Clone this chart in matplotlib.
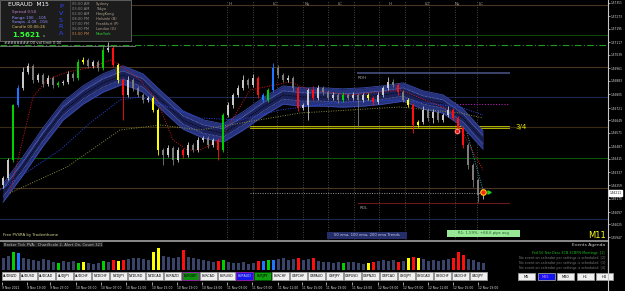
import matplotlib
matplotlib.use("Agg")
import matplotlib.pyplot as plt
from matplotlib.patches import Rectangle
import numpy as np

# ---------------- data ----------------
open_first = 1.56259
closes = [1.56301, 1.56409, 1.56739, 1.56841, 1.56937, 1.56973, 1.56889, 1.56919, 1.56865, 1.56901,
          1.56859, 1.56871, 1.56877, 1.56925, 1.56901, 1.56997, 1.57009, 1.56973, 1.56997, 1.56961,
          1.57069, 1.57081, 1.56979, 1.56889, 1.56799, 1.56889, 1.56841, 1.56799, 1.56769, 1.56781,
          1.56709, 1.56469, 1.56439, 1.56481, 1.56409, 1.56469, 1.56439, 1.56499, 1.56469, 1.56529,
          1.56541, 1.56499, 1.56529, 1.56469, 1.56679, 1.56739, 1.56799, 1.56841, 1.56889, 1.56859,
          1.56901, 1.56799, 1.56769, 1.56829, 1.56961, 1.56919, 1.56889, 1.56901, 1.56841, 1.56721,
          1.56739, 1.56829, 1.56781, 1.56841, 1.56817, 1.56781, 1.56799, 1.56769, 1.56799, 1.56781,
          1.56799, 1.56769, 1.56799, 1.56781, 1.56757, 1.56799, 1.56841, 1.56877, 1.56859, 1.56817,
          1.56769, 1.56739, 1.56619, 1.56637, 1.56709, 1.56661, 1.56697, 1.56649, 1.56679, 1.56709,
          1.56661, 1.56601, 1.56499, 1.56379, 1.56289, 1.56199, 1.56211]
wick_up_pts = [12, 12, 6, 18, 30, 20, 12, 12, 12, 18,
               12, 12, 12, 18, 12, 20, 18, 12, 12, 12,
               24, 36, 12, 12, 12, 24, 12, 12, 12, 12,
               12, 12, 12, 18, 12, 18, 12, 18, 12, 18,
               12, 12, 12, 12, 12, 18, 12, 18, 30, 12,
               24, 12, 12, 12, 30, 20, 12, 18, 12, 12,
               12, 12, 24, 18, 12, 12, 18, 12, 18, 12,
               18, 12, 12, 12, 12, 18, 12, 30, 18, 12,
               12, 12, 12, 12, 24, 12, 18, 12, 12, 24,
               12, 12, 12, 12, 12, 12, 12]
wick_dn_pts = [18, 12, 12, 12, 12, 12, 18, 12, 18, 12,
               18, 12, 12, 12, 18, 12, 12, 12, 12, 18,
               12, 12, 12, 18, 150, 12, 18, 12, 18, 12,
               12, 30, 60, 12, 30, 12, 18, 12, 12, 12,
               12, 18, 12, 60, 12, 12, 18, 12, 12, 18,
               12, 18, 12, 12, 12, 18, 12, 12, 18, 18,
               12, 90, 12, 12, 18, 12, 12, 18, 12, 12,
               12, 160, 12, 12, 18, 12, 12, 12, 12, 18,
               12, 12, 48, 12, 12, 18, 30, 12, 12, 12,
               12, 12, 18, 24, 40, 40, 24]
candle_codes = ("nngbnnnnnn" "ngnnngynnn" "gnryrnnnnn" "yynnnnrnnn" "nnnrgnnnnn"
                "nrbgbnnnnr" "nnrnnnnngn" "nnnyrnnnnr" "nyrynnnnnn" "rrrnnnn")
volumes = [12, 14, 18, 17, 12, 11, 10, 9, 11, 10,
           8, 7, 9, 8, 9, 7, 8, 7, 6, 7,
           9, 8, 10, 9, 10, 11, 12, 12, 11, 10,
           18, 22, 14, 13, 12, 13, 20, 13, 12, 11,
           10, 9, 8, 9, 10, 8, 7, 7, 8, 6,
           7, 9, 9, 10, 10, 11, 12, 10, 11, 12,
           10, 11, 12, 9, 8, 8, 7, 8, 7, 8,
           8, 7, 6, 7, 8, 9, 10, 9, 10, 8,
           9, 12, 13, 12, 11, 9, 10, 9, 10, 11,
           12, 18, 15, 11, 10, 8, 7]

band_idx = [0, 4, 8, 12, 16, 20, 24, 28, 32, 36, 40, 44, 48, 52, 56, 60, 64, 68, 72, 76, 80, 84, 88, 92, 96]
band_mid = [1.56211, 1.56373, 1.56547, 1.56703, 1.56799, 1.56871, 1.56919, 1.56871, 1.56757, 1.56649,
            1.56595, 1.56571, 1.56643, 1.56727, 1.56799, 1.56787, 1.56787, 1.56781, 1.56787, 1.56799,
            1.56817, 1.56769, 1.56745, 1.56661, 1.56529]
band_half = 0.00055

ema_red_idx = [1.4, 6, 8.8, 12.8, 18, 21.4, 22.8, 27.4, 30.8, 34, 36.8, 39.4, 43.4, 49.4, 57.4,
               61.4, 69.4, 79.4, 83.4, 89.4, 92, 96]
ema_red = [1.56211, 1.56787, 1.56889, 1.56937, 1.56967, 1.57009, 1.56991, 1.56889, 1.56769, 1.56529,
           1.56469, 1.56469, 1.56529, 1.56829, 1.56877, 1.56829, 1.56799, 1.56829, 1.56781, 1.56709,
           1.56571, 1.56349]
ema_blue_idx = [-0.6, 11.4, 17.4, 23.4, 27.4, 39.4, 47.4, 55.4, 66, 79.4, 91.4, 96]
ema_blue = [1.56229, 1.56469, 1.56631, 1.56769, 1.56787, 1.56661, 1.56649, 1.56709, 1.56751,
            1.56769, 1.56727, 1.56679]
ema_olive_idx = [1.4, 12.8, 23.4, 31.4, 39.4, 59.4, 69.4, 79.4, 91.4, 96]
ema_olive = [1.56211, 1.56367, 1.56589, 1.56619, 1.56589, 1.56691, 1.56709, 1.56727, 1.56691, 1.56661]
trend_idx = [92.8, 96]
trend_val = [1.56571, 1.56229]

level_prices = [1.57339, 1.57159, 1.57099, 1.56967, 1.56931, 1.56787, 1.56745, 1.56607, 1.56601,
                1.56613, 1.56421, 1.56241, 1.56211, 1.56151, 1.56055]
level_start = [-0.6, -0.6, -0.6, -0.6, 71, -0.6, 87.4, -0.6, 49.4, 49.4, -0.6, -0.6, 49.4, 71, -0.6]
level_end = [121, 121, 121, 121, 101.2, 121, 101.2, 121, 101.2, 101.2, 121, 121, 95.4, 101.2, 121]
level_colors = ['#4a3520', '#0c480c', '#1e9a1e', '#4a3520', '#3c4470', '#1a2650', '#b020b0',
                '#3a2c10', '#d0d000', '#d0d000', '#0c560c', '#4a3520', '#9a9a9a', '#6a1818', '#1a2650']
level_styles = ['-', '-', (0, (6, 2, 1, 2)), '-', '-', '-', (0, (1, 1.5)), '-', '-', '-', '-', '-',
                (0, (1, 1.5)), '-', '-']
level_widths = [0.8, 0.8, 0.8, 0.8, 1.4, 0.8, 0.8, 0.8, 0.6, 0.6, 0.8, 0.8, 0.7, 0.8, 0.8]

price_ticks = [1.57351, 1.57273, 1.57195, 1.57117, 1.57039, 1.56961, 1.56883, 1.56805, 1.56721, 1.56649,
               1.56571, 1.56487, 1.56415, 1.56337, 1.56259, 1.56175, 1.56097, 1.56025, 1.55947]
current_price = 1.56211

time_tick_idx = [-0.2, 4.8, 9.4, 14.6, 19.6, 24.6, 29.8, 34.8, 39.8, 44.8, 49.8, 55, 59.8, 64.6,
                 69.8, 75, 80, 85, 90, 95]
time_tick_labels = ["9 Nov 2021", "9 Nov 19:00", "9 Nov 23:00", "10 Nov 03:00", "10 Nov 07:00",
                    "10 Nov 11:00", "10 Nov 15:00", "10 Nov 19:00", "10 Nov 23:00", "11 Nov 03:00",
                    "11 Nov 07:00", "11 Nov 11:00", "11 Nov 15:00", "11 Nov 19:00", "11 Nov 23:00",
                    "12 Nov 03:00", "12 Nov 07:00", "12 Nov 11:00", "12 Nov 15:00", "12 Nov 19:00"]
session_line_idx = [44.8, 50, 54.8, 60, 65, 70.2, 75.2, 80.4, 85.2, 90.4, 94.8]
session_labels = ["H", "LC", "Ny", "LC", "H", "LO", "Ny", "LC"]
session_label_idx = [45.2, 54, 60.4, 67, 77.2, 84.4, 90.4, 95.2]

symbols = ["AUDNZD", "AUDUSD", "AUDCAD", "AUDJPY", "AUDCHF", "NZDCHF", "NZDJPY", "NZDUSD", "NZDCAD",
           "EURNZD", "EURGBP", "EURCAD", "EURUSD", "EURAUD", "EURJPY", "EURCHF", "GBPCHF", "GBPAUD",
           "GBPJPY", "GBPUSD", "GBPNZD", "GBPCAD", "USDJPY", "USDCAD", "USDCHF", "CADCHF", "CADJPY"]
timeframes = ["M5", "M15", "M30", "H1", "H4"]
city_times = ["05:00 AM", "03:00 AM", "02:00 AM", "08:00 PM", "07:00 PM", "06:00 PM", "01:00 PM"]
city_names = ["Sydney", "Tokyo", "HongKong", "Helsinki (B)", "Frankfurt (P)", "London (G)", "NewYork"]
event_lines = ["Fed 50 Tetz Desc ECB ECBFN Meetings  [1]",
               "No event on calendar per settings is scheduled  [2]",
               "No event on calendar per settings is scheduled  [3]",
               "No event on calendar per settings is scheduled  [4]"]

# ---------------- figure ----------------
W, H = 625, 291
fig = plt.figure(figsize=(W / 100, H / 100), dpi=100, facecolor='black')


def rect(x0, y0, x1, y1):
    return [x0 / W, 1 - y1 / H, (x1 - x0) / W, (y1 - y0) / H]


XL = (-0.6, 121.0)
col_map = {'g': '#00d000', 'b': '#1e78ff', 'r': '#ff1010', 'y': '#ffff00'}

ax = fig.add_axes(rect(0, 0, 608, 240))
ax.set_facecolor('black')
ax.set_xlim(*XL)
ax.set_ylim(1.55929, 1.57369)
for s in ['top', 'left', 'bottom']:
    ax.spines[s].set_visible(False)
ax.spines['right'].set_color('#c8c8c8')
ax.spines['right'].set_linewidth(0.8)
ax.set_xticks([])
ax.yaxis.tick_right()
ax.set_yticks(price_ticks)
ax.set_yticklabels([f"{v:.5f}" for v in price_ticks])
ax.tick_params(axis='y', colors='#e0e0e0', labelsize=2.1, length=1.5, width=0.5, pad=0.6)

# horizontal levels
for p, x0, x1, c, ls, lw in zip(level_prices, level_start, level_end, level_colors, level_styles, level_widths):
    ax.plot([x0, x1], [p, p], color=c, linestyle=ls, lw=lw, zorder=1)

# session vertical lines
for sx in session_line_idx:
    ax.axvline(sx, color='#5c5c5c', lw=0.6, linestyle=(0, (1, 2)), zorder=1)
for lab, sx in zip(session_labels, session_label_idx):
    ax.text(sx, 1.57345, lab, color='#a0a0a0', fontsize=3, va='center', ha='left')

# EMA band
bi = np.array(band_idx, dtype=float)
bm = np.array(band_mid)
ax.fill_between(bi, bm - band_half, bm + band_half, color='#27327c', lw=0, zorder=2)
ax.plot(bi, bm + band_half, color='#3a4aa8', lw=0.6, zorder=2)
ax.plot(bi, bm - band_half, color='#3a4aa8', lw=0.6, zorder=2)
ax.fill_between(bi, bm - band_half * 0.45, bm + band_half * 0.45, color='#1a2158', lw=0, zorder=2)
for k in (-0.45, 0.45):
    ax.plot(bi, bm + band_half * k, color='#7a88cc', lw=0.5, linestyle=(0, (1, 1)), zorder=2)
ax.plot(bi, bm, color='#000000', lw=0.6, linestyle=(0, (1, 1)), zorder=2)

# EMA dotted lines
ax.plot(ema_red_idx, ema_red, color='#d01818', lw=0.7, linestyle=(0, (1, 1.5)), zorder=3)
ax.plot(ema_blue_idx, ema_blue, color='#2848e8', lw=0.7, linestyle=(0, (1, 1.5)), zorder=3)
ax.plot(ema_olive_idx, ema_olive, color='#8a8a40', lw=0.7, linestyle=(0, (1, 1.5)), zorder=3)
ax.plot(trend_idx, trend_val, color='#30b0c0', lw=0.7, linestyle=(0, (1, 1.5)), zorder=3)

# candles
n = len(closes)
idx = np.arange(n)
opens = [open_first] + closes[:-1]
ccol = []
for o, c, code in zip(opens, closes, candle_codes):
    if code in col_map:
        ccol.append(col_map[code])
    else:
        ccol.append('#c8c8c8' if c >= o else '#7c7c7c')
highs = [max(o, c) + u * 1e-5 for o, c, u in zip(opens, closes, wick_up_pts)]
lows = [min(o, c) - d * 1e-5 for o, c, d in zip(opens, closes, wick_dn_pts)]
ax.vlines(idx, lows, highs, colors=ccol, lw=0.6, zorder=4)
bodies = [max(abs(c - o), 0.00003) for o, c in zip(opens, closes)]
ax.bar(idx, bodies, bottom=[min(o, c) for o, c in zip(opens, closes)], width=0.55,
       color=ccol, lw=0, zorder=5)

# markers
ax.scatter([96], [1.56217], s=16, color='#ff2020', edgecolors='#ffd000', linewidths=0.8, zorder=6)
ax.scatter([97.2], [1.56217], s=5, marker='>', color='#20d020', zorder=6)
ax.scatter([90.8], [1.56583], s=14, color='white', edgecolors='#ff4040', linewidths=0.5, zorder=6)
ax.scatter([90.8], [1.56583], s=3, color='#e02020', zorder=7)

# texts in main chart
ax.text(71, 1.56913, "RDH", color='#a0a0a0', fontsize=3, va='top')
ax.text(71.4, 1.56133, "RDL", color='#a0a0a0', fontsize=3, va='top')
ax.text(102.4, 1.56607, "3/4", color='#e8e800', fontsize=5, va='center')

# current price box
ax.text(1.003, (current_price - 1.55929) / (1.57369 - 1.55929), f"{current_price:.5f}",
        transform=ax.transAxes, fontsize=2.1, color='black', va='center', ha='left',
        bbox=dict(boxstyle='square,pad=0.2', fc='white', ec='white'))

# ---------------- volume subwindow ----------------
axv = fig.add_axes(rect(0, 240, 608, 271))
axv.set_facecolor('black')
axv.set_xlim(*XL)
axv.set_ylim(-1, 30)
for s in axv.spines.values():
    s.set_visible(False)
axv.spines['right'].set_visible(True)
axv.spines['right'].set_color('#c8c8c8')
axv.set_xticks([])
axv.set_yticks([])
vcol = [col_map.get(code, '#3a4468') for code in candle_codes]
axv.bar(idx, volumes, width=0.6, color=vcol, lw=0)

# time axis
axt = fig.add_axes(rect(0, 281, 608, 282))
axt.set_facecolor('black')
axt.set_xlim(*XL)
for s in axt.spines.values():
    s.set_visible(False)
axt.set_yticks([])
axt.set_xticks(time_tick_idx)
axt.set_xticklabels(time_tick_labels, ha='left')
axt.tick_params(axis='x', colors='#e0e0e0', labelsize=2.2, length=2, width=0.5, pad=1)

# ---------------- overlay (panels, buttons, texts) ----------------
ov = fig.add_axes([0, 0, 1, 1])
ov.set_xlim(0, W)
ov.set_ylim(H, 0)
ov.axis('off')
ov.patch.set_alpha(0)
ov.set_zorder(10)

# separators
ov.plot([0, 608], [240.5, 240.5], color='#8a8a8a', lw=1.4)
ov.plot([608, 608], [240, 291], color='#c8c8c8', lw=0.8)

# info panel
ov.add_patch(Rectangle((0, 0), 131, 41, fc='#1c1c1c', ec='#6a6a6a', lw=0.6))
ov.plot([70, 70], [1, 40], color='#4a4a4a', lw=0.5)
ov.text(8, 5, "EURAUD  M15", color='white', fontsize=4.2, va='center')
ov.text(12, 12.5, "Spread 0.50", color='#c080d0', fontsize=2.9, va='center')
ov.text(12, 17.5, "Range 106  ..105", color='#8f8fff', fontsize=2.9, va='center')
ov.text(12, 22.5, "Swaps -4.08  .016", color='#8f8fff', fontsize=2.9, va='center')
ov.text(12, 27.5, "Candle 00:06:26", color='#e0c060', fontsize=2.9, va='center')
ov.text(12, 35, "1.5621", color='#30ff30', fontsize=5.2, va='center', weight='bold')
ov.text(43, 36, "s", color='#c0c0c0', fontsize=2.8, va='center')
for k, ch in enumerate("PVSRA"):
    ov.text(61, 7 + 6.6 * k, ch, color='#2a48ff', fontsize=4.6, va='center', ha='center')
for k, (tm, cn) in enumerate(zip(city_times, city_names)):
    last = k == len(city_names) - 1
    ov.text(72, 4 + 5 * k, tm, color='#d08040' if last else '#8a8a8a', fontsize=2.6, va='center')
    ov.text(96, 4 + 5 * k, cn, color='#30d030' if last else '#b0a090', fontsize=2.6, va='center')

ov.text(4, 43, "########.00 vol limit 0.00", color='#e0e0e0', fontsize=2.7, va='center')
ov.plot([0, 135], [46, 46], color='#9a9a9a', lw=0.5)

# bottom labels of main chart
ov.text(3, 235, "Free PVSRA by Tradeethome", color='#d8d890', fontsize=2.8, va='center')
ov.add_patch(Rectangle((327, 232), 80, 7, fc='#262e6a', ec='none'))
ov.text(367, 235.5, "50 ema, 100 ema, 200 ema Trends", color='#c8c8e0', fontsize=2.7,
        va='center', ha='center')
ov.add_patch(Rectangle((447, 229.5), 73, 7, fc='#98e898', ec='none'))
ov.text(483, 233, "R1: 1.59%, +68.6 pips avg", color='#206020', fontsize=2.7, va='center', ha='center')
ov.text(588, 236, "M11", color='#ffff20', fontsize=6, va='center')

# indicator text
ov.text(4, 244.5, "Broker Tick PVA:  ChartScale 2, Alert On, Count 321", color='#c0c0c0',
        fontsize=2.7, va='center', bbox=dict(boxstyle='square,pad=0.2', fc='#1e1e1e', ec='none'))
ov.text(605, 245, "Events Agenda", color='#d0d0d0', fontsize=3.2, va='center', ha='right')
for k, line in enumerate(event_lines):
    ov.text(605, 253 + 5 * k, line, color='#20c020' if k == 0 else '#7a7a7a',
            fontsize=2.4, va='center', ha='right')

# symbol buttons
special_face = {"EURGBP": '#109010', "EURAUD": '#1818e8', "EURJPY": '#10a010'}
special_edge = {"EURGBP": '#a020b0', "EURAUD": '#a020b0', "EURJPY": '#005000'}
special_text = {"EURAUD": '#d8d8ff'}
for k, sym in enumerate(symbols):
    x0 = 2 + 18 * k
    ov.add_patch(Rectangle((x0, 272), 16.5, 8, fc=special_face.get(sym, '#f0f0f0'),
                           ec=special_edge.get(sym, '#9a9a9a'), lw=0.6))
    ov.text(x0 + 8.25, 276, sym, color=special_text.get(sym, 'black'), fontsize=2.3,
            ha='center', va='center')

# timeframe buttons
for k, tf in enumerate(timeframes):
    x0 = 518 + 19.5 * k
    sel = tf == "M15"
    ov.add_patch(Rectangle((x0, 273), 17, 7, fc='#1414f0' if sel else '#f0f0f0',
                           ec='#9a9a9a', lw=0.6))
    ov.text(x0 + 8.5, 276.5, tf, color='#e080ff' if sel else 'black', fontsize=2.6,
            ha='center', va='center')

fig.savefig("out.png", dpi=100, facecolor='black')
